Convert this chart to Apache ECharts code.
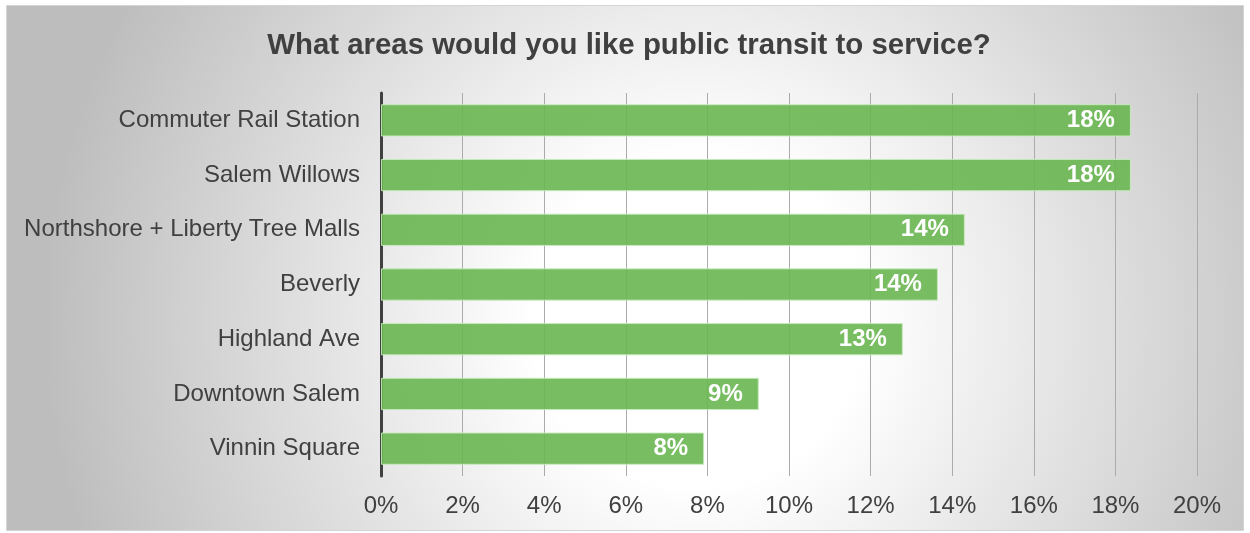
<!DOCTYPE html>
<html>
<head>
<meta charset="utf-8">
<script src="https://cdn.jsdelivr.net/npm/echarts@6/dist/echarts.min.js"></script>
<style>
html,body{margin:0;padding:0;background:#fff;}
#c{width:1250px;height:533px;}
</style>
</head>
<body>
<div id="c"></div>
<script>
const titleText = 'What areas would you like public transit to service?';
const categories = ['Commuter Rail Station','Salem Willows','Northshore + Liberty Tree Malls','Beverly','Highland Ave','Downtown Salem','Vinnin Square'];
const values = [18.38, 18.38, 14.31, 13.65, 12.79, 9.26, 7.92];
const labelValues = [18, 18, 14, 14, 13, 9, 8];

const chart = echarts.init(document.getElementById('c'), null, {renderer:'canvas'});
const font = '"Liberation Sans", Arial, sans-serif';
chart.setOption({
  animation: false,
  graphic: [{
    type: 'rect', z: -10, silent: true,
    shape: {x: 6.5, y: 5.5, width: 1237, height: 525},
    style: {
      fill: new echarts.graphic.RadialGradient(0.56, 0.6, 1.25, [
        {offset: 0, color: '#ffffff'},
        {offset: 0.25, color: '#ffffff'},
        {offset: 1, color: '#bdbdbd'}
      ]),
      stroke: '#d4d4d4', lineWidth: 1
    }
  }],
  title: {
    text: titleText, left: 624, textAlign: 'center', top: 26,
    textStyle: {fontFamily: font, fontSize: 29.4, fontWeight: 'bold', color: '#404040'}
  },
  grid: {left: 381, right: 53, top: 93, bottom: 57, containLabel: false},
  xAxis: {
    type: 'value', min: 0, max: 20, interval: 2,
    axisLine: {show: false}, axisTick: {show: false},
    splitLine: {show: true, lineStyle: {color: '#ababab', width: 1}},
    axisLabel: {formatter: '{value}%', fontFamily: font, fontSize: 24, color: '#404040', margin: 18}
  },
  yAxis: {
    type: 'category', data: categories, inverse: true,
    axisLine: {show: true, lineStyle: {color: '#404040', width: 3}},
    axisTick: {show: false},
    axisLabel: {fontFamily: font, fontSize: 24, color: '#404040', margin: 21}
  },
  series: [{
    type: 'bar', data: values, barCategoryGap: '41%',
    itemStyle: {color: 'rgba(106,182,82,0.9)', borderColor: 'rgba(200,235,190,0.9)', borderWidth: 1},
    label: {
      show: true, position: 'insideRight', distance: 16,
      formatter: p => labelValues[p.dataIndex] + '%',
      fontFamily: font, fontSize: 24, fontWeight: 'bold', color: '#ffffff'
    }
  }]
});
</script>
</body>
</html>
